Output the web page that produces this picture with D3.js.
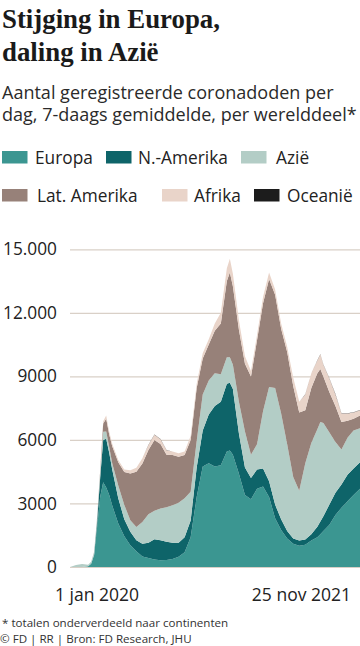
<!DOCTYPE html>
<html><head><meta charset="utf-8">
<script src="https://cdn.jsdelivr.net/npm/d3@7"></script>
<style>
body{margin:0;background:#fff;}
svg{display:block;}
</style></head><body>
<svg id="c" width="360" height="646"></svg>
<script>
// ---- data (7-day average deaths per day, per continent) ----
const dates = ["2020-01-22","2020-02-05","2020-02-19","2020-03-04","2020-03-11","2020-03-18","2020-03-25","2020-04-01","2020-04-08","2020-04-15","2020-04-22","2020-04-29","2020-05-13","2020-05-27","2020-06-10","2020-06-24","2020-07-08","2020-07-22","2020-08-05","2020-08-19","2020-09-02","2020-09-16","2020-09-30","2020-10-14","2020-10-28","2020-11-11","2020-11-25","2020-12-09","2020-12-23","2021-01-06","2021-01-20","2021-01-27","2021-02-03","2021-02-17","2021-03-03","2021-03-17","2021-03-31","2021-04-14","2021-04-28","2021-05-12","2021-05-26","2021-06-09","2021-06-23","2021-07-07","2021-07-21","2021-08-04","2021-08-18","2021-08-25","2021-09-01","2021-09-15","2021-09-29","2021-10-13","2021-10-27","2021-11-10","2021-11-25"];
const europa = [0,0,0,30,150,550,1900,3300,4000,3750,3400,2900,2050,1450,1030,740,500,430,360,320,330,380,480,700,1400,3300,4740,4900,4750,4800,5450,5500,5300,4400,3400,3200,3700,3800,3300,2300,1750,1350,1100,1000,1050,1250,1400,1550,1700,2000,2450,2800,3100,3400,3700];
const nAmerika = [0,0,0,0,5,40,250,900,2000,2300,2000,1700,1200,800,630,520,600,720,950,940,860,770,670,700,800,1400,1700,2300,2850,3000,3200,3200,3100,1900,1300,1000,900,850,750,650,500,350,250,250,250,300,500,600,700,950,1050,1100,1250,1250,1250];
const azie = [0,90,140,80,90,120,180,250,380,350,260,300,600,680,550,630,1030,1340,1340,1500,1630,1770,1880,1850,1350,1250,1700,1600,1550,1300,1250,1200,1150,1500,1700,1100,1200,2700,4450,5500,5000,4100,2900,2350,3600,4300,4600,4700,4400,3400,2400,1650,1750,1800,1600];
const latAmerika = [0,0,0,0,0,5,30,100,400,600,600,800,1100,1550,2200,2610,2760,3040,3350,3050,2480,2370,2180,2040,2450,2500,1700,1700,2000,2400,3600,4000,3700,3400,3200,3700,4900,5100,5100,4400,4000,4350,4300,3700,2500,2600,2650,2500,2200,1900,1700,1300,800,550,600];
const afrika = [0,0,0,0,0,2,10,30,100,150,120,120,100,120,160,190,240,230,240,220,210,160,160,160,190,200,250,250,350,500,600,650,600,450,350,250,250,300,300,250,250,250,400,500,750,700,600,700,550,650,550,400,350,300,250];
const oceanie = [0,0,0,0,0,0,1,3,5,5,3,2,1,0,0,0,2,8,15,18,14,8,3,1,0,0,0,0,1,1,2,2,1,1,1,0,0,0,0,0,0,0,0,1,2,3,8,10,12,15,14,12,10,8,7];

const seriesKeys = ["Europa","N.-Amerika","Azië","Lat. Amerika","Afrika","Oceanië"];
const seriesValues = [europa, nAmerika, azie, latAmerika, afrika, oceanie];
const seriesColors = ["#3b9691","#0e6469","#b3cdc6","#978179","#e9d4c9","#1c1c1c"];

const yTicks = [0,3000,6000,9000,12000,15000];
const yTickLabels = ["0","3000","6000","9000","12.000","15.000"];
const xTickDates = ["2020-01-22","2021-11-25"];
const xTickLabels = ["1 jan 2020","25 nov 2021"];

// ---- build ----
const parse = d3.utcParse("%Y-%m-%d");
const table = dates.map((d,i)=>{
  const row = {date: parse(d)};
  seriesKeys.forEach((k,j)=> row[k] = seriesValues[j][i]);
  return row;
});

const svg = d3.select("#c");
const SANS = "'Open Sans', 'Noto Sans', sans-serif";
const SERIF = "'Liberation Serif', 'DejaVu Serif', serif";

function fitWidth(sel, target){
  const w = sel.node().getComputedTextLength();
  const fs = parseFloat(sel.attr("font-size"));
  sel.attr("font-size", (fs*target/w).toFixed(2));
}

// title
const t1 = svg.append("text").attr("x",2).attr("y",28).attr("font-family",SERIF)
  .attr("font-weight","bold").attr("font-size",25).attr("fill","#1a1a1a").text("Stijging in Europa,");
fitWidth(t1, 218);
const t2 = svg.append("text").attr("x",2).attr("y",61).attr("font-family",SERIF)
  .attr("font-weight","bold").attr("font-size",25).attr("fill","#1a1a1a").text("daling in Azië");
t2.attr("font-size", t1.attr("font-size"));

// subtitle
const s1 = svg.append("text").attr("x",2).attr("y",99).attr("font-family",SANS)
  .attr("font-size",17).attr("fill","#2a2a2a").text("Aantal geregistreerde coronadoden per");
const s2 = svg.append("text").attr("x",2).attr("y",121).attr("font-family",SANS)
  .attr("font-size",17).attr("fill","#2a2a2a").text("dag, 7-daags gemiddelde, per werelddeel*");
fitWidth(s2, 355);
s1.attr("font-size", s2.attr("font-size"));

// legend
const legendPos = [[2,151,35],[106,151,138],[241,151,276],[2,189,37],[162,189,194],[254,189,287]];
const lg = svg.append("g");
seriesKeys.forEach((k,i)=>{
  const p = legendPos[i];
  lg.append("rect").attr("x",p[0]).attr("y",p[1]).attr("width",25.5).attr("height",12.5).attr("fill",seriesColors[i]);
  lg.append("text").attr("x",p[2]).attr("y",p[1]+12.5).attr("font-family",SANS).attr("font-size",17.3)
    .attr("fill","#222").text(k);
});

// scales
const x = d3.scaleUtc().domain([parse(dates[0]), parse(dates[dates.length-1])]).range([70,360]);
const y = d3.scaleLinear().domain([0,15000]).range([567,249.3]);

// grid + y labels
const yAxis = d3.axisLeft(y).tickValues(yTicks).tickSize(-290).tickPadding(13)
  .tickFormat((d,i)=>yTickLabels[i]);
const gy = svg.append("g").attr("transform","translate(70,0)").call(yAxis);
gy.select(".domain").remove();
gy.selectAll(".tick line").attr("stroke","#d9d0c7").attr("stroke-width",1.2);
gy.selectAll(".tick text").attr("font-family",SANS).attr("font-size",17.3).attr("fill","#222");

// stacked areas
const stack = d3.stack().keys(seriesKeys);
const layers = stack(table);
const area = d3.area().x(d=>x(d.data.date)).y0(d=>y(d[0])).y1(d=>y(d[1])).curve(d3.curveLinear);
svg.append("g").selectAll("path").data(layers).join("path")
  .attr("d", area).attr("fill",(d,i)=>seriesColors[i]);

// x labels
const xAnchors = [["middle",27],["end",-9]];
const gx = svg.append("g");
xTickDates.forEach((d,i)=>{
  gx.append("text").attr("x", x(parse(d)) + xAnchors[i][1]).attr("y",601)
    .attr("text-anchor", xAnchors[i][0]).attr("font-family",SANS).attr("font-size",17.5)
    .attr("fill","#222").text(xTickLabels[i]);
});

// footnotes
svg.append("text").attr("x",2).attr("y",627).attr("font-family",SANS).attr("font-size",11.6)
  .attr("fill","#333").text("* totalen onderverdeeld naar continenten");
svg.append("text").attr("x",0).attr("y",643).attr("font-family",SANS).attr("font-size",11.6)
  .attr("fill","#333").text("© FD | RR | Bron: FD Research, JHU");
</script>
</body></html>
